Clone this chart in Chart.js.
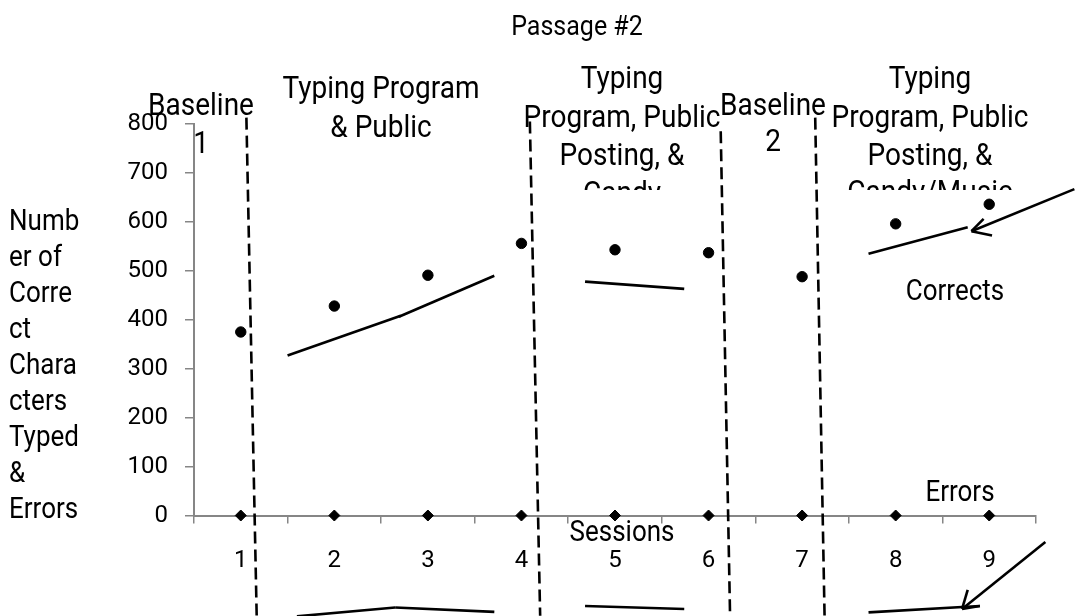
<!DOCTYPE html>
<html>
<head>
<meta charset="utf-8">
<script src="https://cdn.jsdelivr.net/npm/chart.js@4.4.1/dist/chart.umd.min.js"></script>
<style>
  html, body { margin: 0; padding: 0; background: #fff; }
</style>
</head>
<body>
<canvas id="chart" width="1081" height="616"></canvas>
<script>
// data
const sessions = ['1', '2', '3', '4', '5', '6', '7', '8', '9'];
const corrects = [375, 428, 491, 556, 543, 537, 488, 596, 636];
const errors = [0, 0, 0, 0, 0, 0, 0, 0, 0];
const yTicks = [0, 100, 200, 300, 400, 500, 600, 700, 800];

// hand drawn marks, as [session, value] pairs
const phaseChanges = [
  [[1.06, 813], [1.17, -205]],
  [[4.09, 805], [4.20, -205]],
  [[6.13, 785], [6.23, -205]],
  [[7.14, 813], [7.24, -205]]
];
const correctTrends = [
  [[1.50, 327], [2.71, 408]],
  [[2.69, 406], [3.71, 490]],
  [[4.68, 478], [5.74, 463]],
  [[7.71, 535], [8.77, 589]]
];
const errorTrends = [
  [[1.60, -206], [2.65, -188]],
  [[2.65, -188], [3.71, -197]],
  [[4.68, -185], [5.74, -191]],
  [[7.71, -198], [8.90, -185]]
];
const arrows = [
  { from: [9.91, 667], tip: [8.81, 581], barbs: [[8.94, 606], [9.03, 572]] },
  { from: [9.60, -54], tip: [8.71, -191], barbs: [[8.77, -152], [8.90, -185]] }
];

const FONT = 'Roboto';
const yTitle = ['Numb', 'er of', 'Corre', 'ct', 'Chara', 'cters', 'Typed', '&', 'Errors'];

// text a little taller than Roboto, like the narrow font of the original
function text(ctx, s, x, y, size, align) {
  ctx.save();
  ctx.font = size + 'px ' + FONT;
  ctx.textAlign = align || 'center';
  ctx.textBaseline = 'alphabetic';
  ctx.translate(x, y);
  ctx.scale(1, 1.1);
  ctx.fillText(s, 0, 0);
  ctx.restore();
}

function block(ctx, lines, cx, baselines, size, clipBottom) {
  ctx.save();
  if (clipBottom) {
    ctx.beginPath();
    ctx.rect(0, 0, 1081, clipBottom);
    ctx.clip();
  }
  lines.forEach((s, i) => text(ctx, s, cx, baselines[i], size));
  ctx.restore();
}

const overlay = {
  id: 'overlay',
  afterDatasetsDraw(chart) {
    const { ctx, scales: { x, y } } = chart;
    const px = p => [x.getPixelForValue(p[0] - 1), y.getPixelForValue(p[1])];
    const seg = (a, b) => {
      const p = px(a), q = px(b);
      ctx.beginPath();
      ctx.moveTo(p[0], p[1]);
      ctx.lineTo(q[0], q[1]);
      ctx.stroke();
    };
    ctx.save();
    ctx.strokeStyle = '#000';
    ctx.lineWidth = 2.6;
    ctx.setLineDash([12, 6]);
    phaseChanges.forEach(l => seg(l[0], l[1]));
    ctx.setLineDash([]);
    correctTrends.concat(errorTrends).forEach(l => seg(l[0], l[1]));
    arrows.forEach(a => {
      seg(a.from, a.tip);
      a.barbs.forEach(b => seg(a.tip, b));
    });
    ctx.restore();
  },
  afterDraw(chart) {
    const { ctx } = chart;
    ctx.save();
    ctx.fillStyle = '#000';
    text(ctx, 'Passage #2', 577, 35, 25);
    yTitle.forEach((s, i) => text(ctx, s, 9, 230 + i * 36, 26, 'left'));
    block(ctx, ['Baseline', '1'], 201, [115, 153], 28);
    block(ctx, ['Typing Program', '& Public'], 381, [98, 137], 28);
    block(ctx, ['Typing', 'Program, Public', 'Posting, &', 'Candy'], 622, [88, 127, 165, 203], 28, 190);
    block(ctx, ['Baseline', '2'], 773, [115, 151], 28);
    block(ctx, ['Typing', 'Program, Public', 'Posting, &', 'Candy/Music'], 930, [88, 127, 165, 202], 28, 190);
    text(ctx, 'Corrects', 955, 300, 26);
    text(ctx, 'Errors', 960, 501, 26);
    text(ctx, 'Sessions', 622, 541, 26);
    ctx.restore();
  }
};

Chart.defaults.font.family = FONT;
Chart.defaults.color = '#000';

new Chart(document.getElementById('chart').getContext('2d'), {
  type: 'line',
  data: {
    labels: sessions,
    datasets: [
      {
        label: 'Corrects',
        data: corrects,
        showLine: false,
        pointStyle: 'circle',
        pointRadius: 5.2,
        backgroundColor: '#000',
        borderColor: '#000',
        clip: false
      },
      {
        label: 'Errors',
        data: errors,
        showLine: false,
        pointStyle: 'rectRot',
        pointRadius: 5.5,
        backgroundColor: '#000',
        borderColor: '#000',
        clip: false
      }
    ]
  },
  options: {
    responsive: false,
    animation: false,
    layout: { padding: { top: 124, right: 45, left: 0, bottom: 0 } },
    plugins: {
      legend: { display: false },
      tooltip: { enabled: false }
    },
    scales: {
      x: {
        type: 'category',
        offset: true,
        grid: { offset: true, drawOnChartArea: false, tickLength: 8, color: '#868686', lineWidth: 1.5 },
        border: { color: '#868686', width: 2 },
        ticks: { font: { size: 24 }, padding: 23, maxRotation: 0 },
        afterFit: s => { s.height = 100.5; }
      },
      y: {
        min: 0,
        max: 800,
        afterBuildTicks: s => { s.ticks = yTicks.map(v => ({ value: v })); },
        grid: { drawOnChartArea: false, tickLength: 9, color: '#868686', lineWidth: 1.5 },
        border: { color: '#868686', width: 2 },
        ticks: { font: { size: 24 }, padding: 17 },
        afterFit: s => { s.width = 194; }
      }
    }
  },
  plugins: [overlay]
});
</script>
</body>
</html>
